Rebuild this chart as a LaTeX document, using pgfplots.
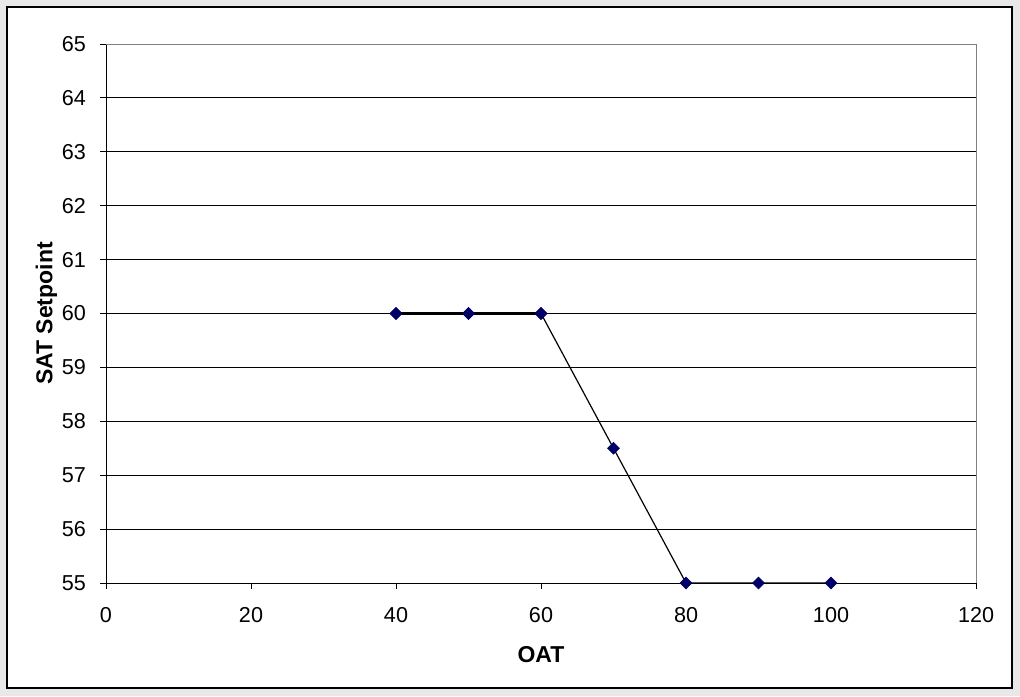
\documentclass[border=0pt]{standalone}
\usepackage{pgfplots}
\pgfplotsset{compat=1.18}
\usepackage{fontspec}
\setmainfont{Liberation Sans}
\begin{document}
\begin{tikzpicture}[x=1pt,y=1pt]
\fill[gray!18] (0,0) rectangle (510,-348);
\draw[black, line width=1pt, fill=white] (3.5,-3.5) rectangle (506,-344);
\begin{axis}[
  at={(53pt,-291.5pt)}, anchor=south west,
  scale only axis, width=435pt, height=269.5pt,
  xmin=0, xmax=120, ymin=55, ymax=65,
  xtick={0,20,...,120}, ytick={55,56,...,65},
  tick align=outside, xtick pos=bottom, ytick pos=left,
  major tick length=3pt,
  tick style={black, line width=0.5pt},
  axis line style={draw=none},
  ymajorgrids, grid style={black, line width=0.5pt},
  ticklabel style={font=\fontsize{10.8}{12}\selectfont},
  /pgf/number format/assume math mode=true,
  xticklabel style={yshift=-5.5pt},
  yticklabel style={xshift=-3.5pt},
  xlabel={\textbf{OAT}}, ylabel={\textbf{SAT Setpoint}},
  label style={font=\fontsize{11.5}{13}\selectfont},
  xlabel style={yshift=-5pt},
  ylabel style={yshift=-4.5pt},
  clip=false,
]
\draw[black, line width=0.5pt] (axis cs:0,65) -- (axis cs:0,55) -- (axis cs:120,55);
\draw[gray, line width=0.5pt] (axis cs:0,65) -- (axis cs:120,65) -- (axis cs:120,55);
\addplot[black, line width=0.6pt, mark=square*, mark size=2.1pt,
  mark options={fill=blue!40!black, draw=blue!40!black, rotate=45, line width=0.3pt}]
  coordinates {(40,60) (50,60) (60,60) (70,57.5) (80,55) (90,55) (100,55)};
\addplot[black, line width=1.6pt, forget plot] coordinates {(40,60) (60,60)};
\addplot[only marks, mark=square*, mark size=2.1pt,
  mark options={fill=blue!40!black, draw=blue!40!black, rotate=45, line width=0.3pt}]
  coordinates {(40,60) (50,60) (60,60)};
\end{axis}
\end{tikzpicture}
\end{document}
